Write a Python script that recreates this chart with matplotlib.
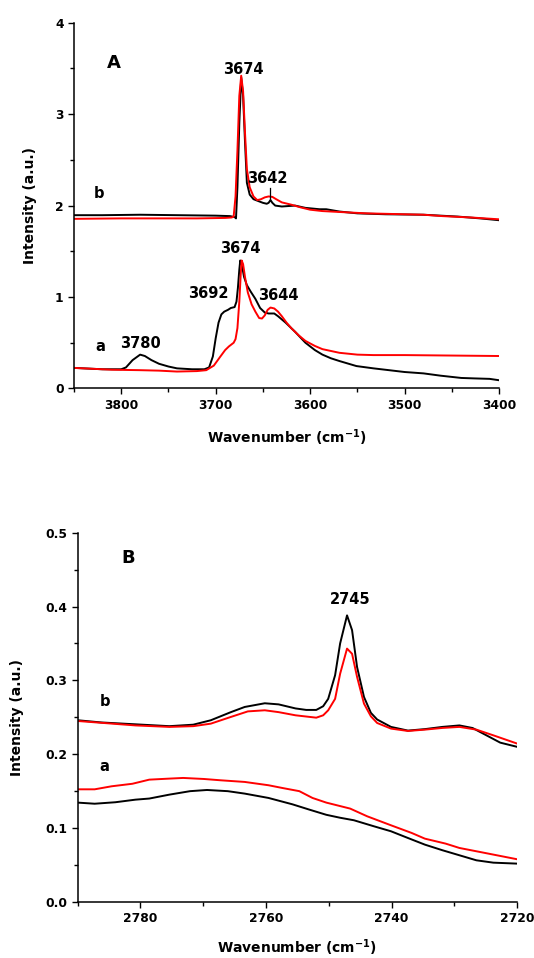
import matplotlib
matplotlib.use("Agg")
import matplotlib.pyplot as plt
from matplotlib.ticker import MultipleLocator

# ─────────────────────────────────────────────
# PANEL A  (OH stretching region)
# ─────────────────────────────────────────────
wn_A_b_black = [3850, 3820, 3780, 3740, 3700, 3685, 3680, 3678.5, 3677, 3675, 3673, 3671,
                3669, 3667, 3664, 3660, 3655, 3650, 3646, 3644, 3642, 3640, 3637, 3630,
                3623, 3616, 3605, 3590, 3583, 3569, 3550, 3520, 3480, 3444, 3420, 3400]
int_A_b_black = [1.895, 1.895, 1.90, 1.895, 1.89, 1.885, 1.875, 1.86, 2.2, 2.9, 3.40, 3.2,
                 2.7, 2.25, 2.12, 2.07, 2.05, 2.03, 2.02, 2.03, 2.06, 2.03, 2.00, 1.99,
                 1.995, 2.0, 1.975, 1.96, 1.96, 1.935, 1.915, 1.905, 1.90, 1.88, 1.86, 1.84]

wn_A_b_red = [3850, 3800, 3760, 3720, 3690, 3683, 3681, 3679, 3677, 3675, 3673, 3671,
              3669, 3667, 3664, 3660, 3656, 3652, 3648, 3644, 3640, 3636, 3630, 3620,
              3610, 3600, 3587, 3569, 3540, 3500, 3480, 3460, 3430, 3400]
int_A_b_red = [1.855, 1.86, 1.86, 1.86, 1.865, 1.87, 1.88, 2.1, 2.6, 3.2, 3.42, 3.25,
               2.8, 2.4, 2.2, 2.1, 2.06, 2.07, 2.09, 2.10, 2.095, 2.07, 2.035, 2.01,
               1.98, 1.955, 1.94, 1.93, 1.915, 1.905, 1.90, 1.885, 1.87, 1.85]

wn_A_a_black = [3850, 3820, 3800, 3795, 3788, 3780, 3775, 3768, 3760, 3750, 3741, 3725,
                3712, 3707, 3703, 3700, 3697, 3694, 3691, 3687, 3684, 3680, 3678, 3676.5,
                3675, 3674, 3672.5, 3670, 3667, 3663, 3658, 3653, 3648, 3644, 3638, 3634,
                3626, 3616, 3605, 3595, 3587, 3578, 3569, 3551, 3533, 3500, 3480, 3462,
                3440, 3426, 3410, 3400]
int_A_a_black = [0.225, 0.21, 0.21, 0.23, 0.31, 0.37, 0.355, 0.31, 0.27, 0.24, 0.22, 0.21,
                 0.21, 0.23, 0.35, 0.55, 0.72, 0.81, 0.84, 0.86, 0.88, 0.89, 0.95, 1.10,
                 1.30, 1.40, 1.36, 1.22, 1.13, 1.06, 0.98, 0.88, 0.83, 0.82, 0.82, 0.79,
                 0.72, 0.62, 0.50, 0.42, 0.37, 0.33, 0.30, 0.245, 0.22, 0.18, 0.165, 0.14,
                 0.115, 0.11, 0.105, 0.09]

wn_A_a_red = [3850, 3810, 3780, 3760, 3741, 3720, 3710, 3702, 3695, 3690, 3686, 3681,
              3679, 3677, 3675, 3673.5, 3672.5, 3671, 3669, 3666, 3662, 3658, 3654, 3651,
              3648, 3645, 3642, 3638, 3634, 3630, 3625, 3620, 3612, 3605, 3595, 3587,
              3569, 3550, 3533, 3500, 3450, 3400]
int_A_a_red = [0.225, 0.205, 0.20, 0.195, 0.185, 0.19, 0.20, 0.25, 0.35, 0.42, 0.46, 0.50,
               0.54, 0.66, 0.95, 1.25, 1.40, 1.36, 1.22, 1.05, 0.92, 0.84, 0.77, 0.765,
               0.80, 0.86, 0.885, 0.875, 0.84, 0.79, 0.72, 0.66, 0.58, 0.52, 0.465, 0.43,
               0.39, 0.37, 0.365, 0.365, 0.36, 0.355]

# ─────────────────────────────────────────────
# PANEL B  (CH region)
# ─────────────────────────────────────────────
wn_B_b_black = [2790, 2786.2, 2780.8, 2775.4, 2771.6, 2768.8, 2765.6, 2763.4, 2760.2, 2758.0,
                2755.3, 2753.6, 2752.0, 2750.9, 2750.1, 2749.0, 2748.2, 2747.1, 2746.3,
                2745.5, 2744.4, 2743.3, 2742.3, 2740.1, 2737.4, 2734.7, 2731.9, 2729.2,
                2727.1, 2724.9, 2722.7, 2720]
int_B_b_black = [0.246, 0.243, 0.2405, 0.238, 0.240, 0.246, 0.257, 0.264, 0.269, 0.2675,
                 0.262, 0.260, 0.260, 0.265, 0.275, 0.307, 0.350, 0.388, 0.368,
                 0.318, 0.2775, 0.256, 0.247, 0.237, 0.232, 0.234, 0.237, 0.239,
                 0.2355, 0.2256, 0.2157, 0.210]

wn_B_b_red = [2790, 2780.8, 2775.4, 2771.6, 2768.8, 2765.6, 2762.9, 2760.2, 2758.0, 2755.3,
              2752.0, 2750.9, 2750.1, 2749.0, 2748.2, 2747.1, 2746.3, 2745.5, 2744.4,
              2743.3, 2742.3, 2740.1, 2737.4, 2734.7, 2731.9, 2729.2, 2726.5, 2723.8, 2720]
int_B_b_red = [0.245, 0.239, 0.237, 0.238, 0.2414, 0.2505, 0.258, 0.2595, 0.257, 0.2527,
               0.2495, 0.2527, 0.2595, 0.275, 0.309, 0.343, 0.336, 0.3046, 0.2685,
               0.2513, 0.2423, 0.2347, 0.2315, 0.2333, 0.2356, 0.237, 0.2333, 0.2256, 0.2144]

wn_B_a_black = [2790, 2787.3, 2784.0, 2780.8, 2778.6, 2775.4, 2772.1, 2769.4, 2766.1, 2763.4,
                2759.6, 2755.8, 2753.1, 2750.4, 2748.2, 2746.0, 2742.8, 2740.1, 2737.4,
                2734.7, 2731.9, 2729.2, 2726.5, 2723.8, 2720]
int_B_a_black = [0.1345, 0.133, 0.135, 0.1385, 0.140, 0.1453, 0.150, 0.1516, 0.150, 0.1467,
                 0.1408, 0.1322, 0.125, 0.118, 0.114, 0.1106, 0.1024, 0.0957, 0.0866,
                 0.0776, 0.070, 0.0632, 0.0564, 0.0532, 0.0519]

wn_B_a_red = [2790, 2787.3, 2784.6, 2781.3, 2778.6, 2775.4, 2773.2, 2769.9, 2767.2, 2763.4,
              2759.6, 2757.4, 2754.7, 2752.6, 2750.4, 2746.6, 2743.9, 2740.1, 2736.8,
              2734.7, 2731.4, 2729.2, 2725.4, 2722.7, 2720]
int_B_a_red = [0.1525, 0.1525, 0.1566, 0.160, 0.1656, 0.167, 0.1679, 0.1665, 0.1647, 0.1625,
               0.158, 0.1543, 0.150, 0.1408, 0.1345, 0.1264, 0.116, 0.1038, 0.0934,
               0.0857, 0.079, 0.0731, 0.0668, 0.0623, 0.0578]

LW = 1.4
RED = "#ff0000"
XLABEL = r"Wavenumber (cm$^{\mathbf{-1}}$)"


def style_axes(ax):
    for side in ("top", "right"):
        ax.spines[side].set_visible(False)
    for side in ("left", "bottom"):
        ax.spines[side].set_linewidth(1.1)
    ax.tick_params(which="major", direction="out", length=4.5, width=1.0,
                   labelsize=8.8, pad=3)
    ax.tick_params(which="minor", direction="out", length=2.8, width=1.0)
    for lab in ax.get_xticklabels() + ax.get_yticklabels():
        lab.set_fontweight("bold")


fig = plt.figure(figsize=(5.34, 9.58), dpi=100)

# ── Panel A ──
axA = fig.add_axes([0.1386, 0.5945, 0.796, 0.3818])
axA.plot(wn_A_b_black, int_A_b_black, color="black", lw=LW)
axA.plot(wn_A_b_red, int_A_b_red, color=RED, lw=LW)
axA.plot(wn_A_a_black, int_A_a_black, color="black", lw=LW)
axA.plot(wn_A_a_red, int_A_a_red, color=RED, lw=LW)
axA.set_xlim(3850, 3400)
axA.set_ylim(0, 4)
axA.xaxis.set_major_locator(MultipleLocator(100))
axA.xaxis.set_minor_locator(MultipleLocator(50))
axA.yaxis.set_major_locator(MultipleLocator(1))
axA.yaxis.set_minor_locator(MultipleLocator(0.5))
style_axes(axA)
axA.set_xlabel(XLABEL, fontsize=10, fontweight="bold", labelpad=11)
axA.set_ylabel("Intensity (a.u.)", fontsize=10, fontweight="bold", labelpad=13)

txt = dict(fontsize=10.5, fontweight="bold", ha="center", va="center")
axA.text(3808, 3.56, "A", fontsize=13, fontweight="bold", ha="center", va="center")
axA.text(3671, 3.49, "3674", **txt)
axA.text(3645, 2.30, "3642", **txt)
axA.plot([3643, 3643], [2.07, 2.19], color="black", lw=0.9)
axA.text(3824, 2.13, "b", **txt)
axA.text(3673.5, 1.53, "3674", **txt)
axA.text(3707.5, 1.04, "3692", **txt)
axA.text(3634, 1.02, "3644", **txt)
axA.text(3780, 0.49, "3780", **txt)
axA.text(3822, 0.46, "a", **txt)

# ── Panel B ──
axB = fig.add_axes([0.1455, 0.0585, 0.823, 0.3855])
axB.plot(wn_B_b_black, int_B_b_black, color="black", lw=LW)
axB.plot(wn_B_b_red, int_B_b_red, color=RED, lw=LW)
axB.plot(wn_B_a_black, int_B_a_black, color="black", lw=LW)
axB.plot(wn_B_a_red, int_B_a_red, color=RED, lw=LW)
axB.set_xlim(2790, 2720)
axB.set_ylim(0, 0.5)
axB.xaxis.set_major_locator(MultipleLocator(20))
axB.xaxis.set_minor_locator(MultipleLocator(10))
axB.yaxis.set_major_locator(MultipleLocator(0.1))
axB.yaxis.set_minor_locator(MultipleLocator(0.05))
style_axes(axB)
axB.set_xlabel(XLABEL, fontsize=10, fontweight="bold", labelpad=9)
axB.set_ylabel("Intensity (a.u.)", fontsize=10, fontweight="bold", labelpad=15)

axB.text(2782, 0.466, "B", fontsize=13, fontweight="bold", ha="center", va="center")
axB.text(2746.6, 0.41, "2745", **txt)
axB.text(2785.7, 0.271, "b", **txt)
axB.text(2785.7, 0.184, "a", **txt)

fig.savefig("out.png", dpi=100)
